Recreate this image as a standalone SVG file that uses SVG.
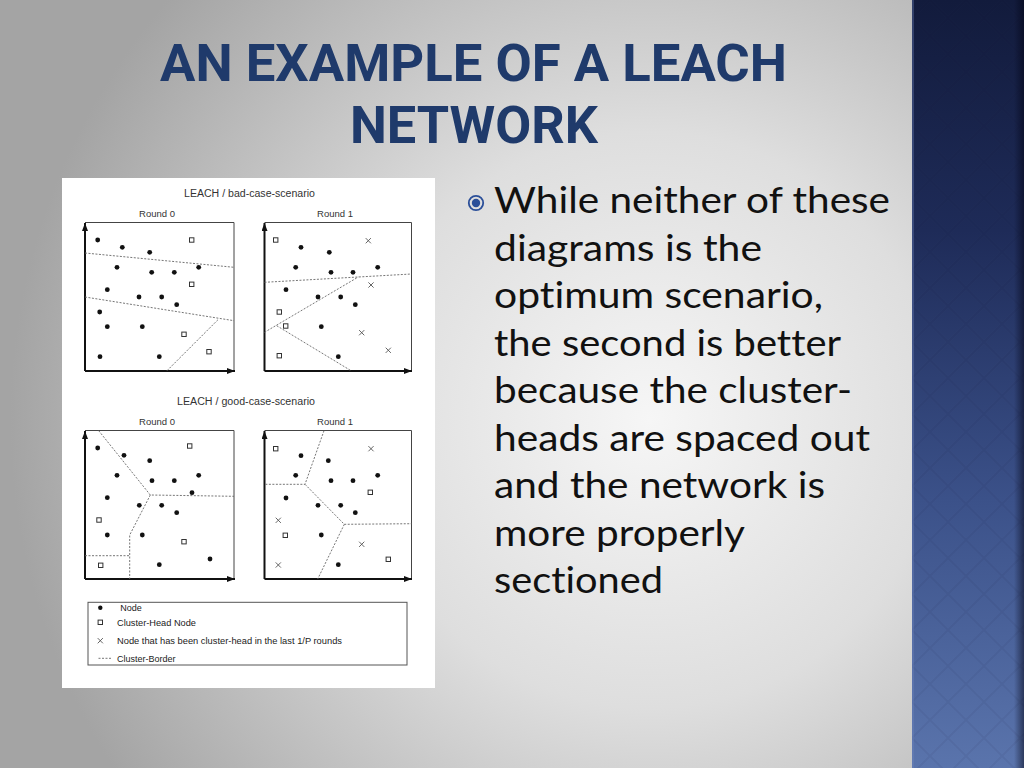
<svg xmlns="http://www.w3.org/2000/svg" width="1024" height="768" viewBox="0 0 1024 768">
<defs>
<radialGradient id="bg" gradientUnits="userSpaceOnUse" cx="650" cy="420" r="640">
<stop offset="0" stop-color="#f6f6f6"/>
<stop offset="0.45" stop-color="#dedede"/>
<stop offset="1" stop-color="#a4a4a4"/>
</radialGradient>
<linearGradient id="strip" x1="0" y1="0" x2="0" y2="1">
<stop offset="0" stop-color="#121b3c"/>
<stop offset="0.3" stop-color="#1e2b58"/>
<stop offset="0.65" stop-color="#3b5189"/>
<stop offset="1" stop-color="#5a74ac"/>
</linearGradient>
<linearGradient id="shade" x1="0" y1="0" x2="1" y2="0">
<stop offset="0" stop-color="#000010" stop-opacity="0"/>
<stop offset="1" stop-color="#000010" stop-opacity="0.5"/>
</linearGradient>
<pattern id="diam" width="36" height="36" patternUnits="userSpaceOnUse" x="912" y="0">
<path d="M0,18L18,0L36,18L18,36Z" fill="none" stroke="#0a1430" stroke-opacity="0.06" stroke-width="2"/>
</pattern>
<marker id="ah" markerWidth="8" markerHeight="6" refX="8" refY="3" orient="auto" markerUnits="userSpaceOnUse">
<path d="M0,0L8,3L0,6Z" fill="#111"/>
</marker>
<g id="sq"><rect x="-2.2" y="-2.2" width="4.4" height="4.4" fill="#fff" stroke="#333" stroke-width="1"/></g>
<g id="xx"><path d="M-2.6,-2.6L2.6,2.6M-2.6,2.6L2.6,-2.6" stroke="#555" stroke-width="0.9" fill="none"/></g>
<style>
.title{font-family:Roboto,"Liberation Sans",sans-serif;font-weight:bold;font-size:52px;fill:#1f3a6b}
.body{font-family:Lato,"Open Sans",sans-serif;font-size:37px;fill:#111;font-variant-ligatures:none}
.ft{font-family:"Liberation Sans",Arial,sans-serif;fill:#333}
.lg{font-family:"Liberation Sans",Arial,sans-serif;fill:#222;font-size:9px}
.dot{fill:#111}
.axis{stroke:#111;stroke-width:2;fill:none}
.frame{stroke:#444;stroke-width:1;fill:none}
.border{stroke:#666;stroke-width:0.9;stroke-dasharray:2 1.5;fill:none}
</style>
</defs>

<rect width="1024" height="768" fill="url(#bg)"/>

<g id="strip">
<rect x="912" y="0" width="112" height="768" fill="url(#strip)"/>
<rect x="912" y="0" width="112" height="768" fill="url(#diam)"/>
<rect x="1014" y="0" width="10" height="768" fill="url(#shade)"/>
<rect x="912" y="0" width="2" height="768" fill="#7088c0" fill-opacity="0.35"/>
</g>

<g id="title">
<text class="title" x="160" y="81" textLength="627" lengthAdjust="spacingAndGlyphs">AN EXAMPLE OF A LEACH</text>
<text class="title" x="350" y="143" textLength="248" lengthAdjust="spacingAndGlyphs">NETWORK</text>
</g>

<g id="bullet-text">
<circle cx="476" cy="203" r="7.2" fill="none" stroke="#2b4f99" stroke-width="1.8"/>
<circle cx="476" cy="203" r="4.2" fill="#2b4f99"/>
<text class="body" x="494" y="213" textLength="396" lengthAdjust="spacingAndGlyphs">While neither of these</text>
<text class="body" x="494" y="260.5" textLength="268" lengthAdjust="spacingAndGlyphs">diagrams is the</text>
<text class="body" x="494" y="308" textLength="329" lengthAdjust="spacingAndGlyphs">optimum scenario,</text>
<text class="body" x="494" y="355.5" textLength="347" lengthAdjust="spacingAndGlyphs">the second is better</text>
<text class="body" x="494" y="403" textLength="358" lengthAdjust="spacingAndGlyphs">because the cluster-</text>
<text class="body" x="494" y="450.5" textLength="376" lengthAdjust="spacingAndGlyphs">heads are spaced out</text>
<text class="body" x="494" y="498" textLength="331" lengthAdjust="spacingAndGlyphs">and the network is</text>
<text class="body" x="494" y="545.5" textLength="251" lengthAdjust="spacingAndGlyphs">more properly</text>
<text class="body" x="494" y="593" textLength="169" lengthAdjust="spacingAndGlyphs">sectioned</text>
</g>

<g id="figure">
<rect x="62" y="178" width="373" height="510" fill="#ffffff"/>

<text class="ft" x="184" y="196.5" font-size="10" textLength="131" lengthAdjust="spacingAndGlyphs">LEACH / bad-case-scenario</text>
<text class="ft" x="157" y="216.5" font-size="9.5" text-anchor="middle">Round 0</text>
<text class="ft" x="335" y="216.5" font-size="9.5" text-anchor="middle">Round 1</text>
<text class="ft" x="177" y="405" font-size="10" textLength="138" lengthAdjust="spacingAndGlyphs">LEACH / good-case-scenario</text>
<text class="ft" x="157" y="425" font-size="9.5" text-anchor="middle">Round 0</text>
<text class="ft" x="335" y="425" font-size="9.5" text-anchor="middle">Round 1</text>

<!-- Panel 1: bad, round 0 -->
<g id="panel-bad-0">
<polyline class="frame" points="85,222.5 234,222.5 234,371"/>
<line class="axis" x1="85" y1="371" x2="85" y2="223" marker-end="url(#ah)"/>
<line class="axis" x1="85" y1="371" x2="235" y2="371" marker-end="url(#ah)"/>
<path class="border" d="M85,253L234,267.3M85,297L234,320.7M167,370.7L218.7,319"/>
<g class="dot">
<circle cx="97.7" cy="240" r="2.4"/><circle cx="122.3" cy="247.3" r="2.4"/><circle cx="149.7" cy="252.3" r="2.4"/>
<circle cx="117" cy="267.3" r="2.4"/><circle cx="151.7" cy="272.3" r="2.4"/><circle cx="174.3" cy="272.3" r="2.4"/>
<circle cx="198.7" cy="267.3" r="2.4"/><circle cx="107.3" cy="289.7" r="2.4"/><circle cx="139" cy="297" r="2.4"/>
<circle cx="161.7" cy="297" r="2.4"/><circle cx="176.7" cy="304.7" r="2.4"/><circle cx="99.7" cy="312" r="2.4"/>
<circle cx="107.3" cy="326.7" r="2.4"/><circle cx="142.3" cy="326.7" r="2.4"/><circle cx="100" cy="356.7" r="2.4"/>
<circle cx="159.3" cy="356.7" r="2.4"/>
</g>
<use href="#sq" x="191.7" y="240"/><use href="#sq" x="191.7" y="284.3"/>
<use href="#sq" x="184" y="334.3"/><use href="#sq" x="209" y="351.7"/>
</g>

<!-- Panel 2: bad, round 1 -->
<g id="panel-bad-1">
<polyline class="frame" points="264.5,222.5 411.5,222.5 411.5,371"/>
<line class="axis" x1="264.5" y1="371" x2="264.5" y2="223" marker-end="url(#ah)"/>
<line class="axis" x1="264.5" y1="371" x2="412" y2="371" marker-end="url(#ah)"/>
<path class="border" d="M264.5,282.3L358.3,277L411.5,274M264.5,332.3L358.3,277M276.7,325.7L351,370.7"/>
<g class="dot">
<circle cx="301" cy="247.3" r="2.4"/><circle cx="329.3" cy="252.3" r="2.4"/><circle cx="295.7" cy="267.3" r="2.4"/>
<circle cx="331" cy="272.3" r="2.4"/><circle cx="353" cy="272.3" r="2.4"/><circle cx="377.7" cy="267.3" r="2.4"/>
<circle cx="286" cy="289.7" r="2.4"/><circle cx="318" cy="297" r="2.4"/><circle cx="340.7" cy="297" r="2.4"/>
<circle cx="355.3" cy="304.7" r="2.4"/><circle cx="321.3" cy="326.7" r="2.4"/><circle cx="338.3" cy="356.7" r="2.4"/>
</g>
<use href="#sq" x="275.7" y="240"/><use href="#sq" x="279.3" y="312"/>
<use href="#sq" x="285.7" y="326"/><use href="#sq" x="279.3" y="355.7"/>
<use href="#xx" x="368.3" y="240.7"/><use href="#xx" x="371" y="285"/>
<use href="#xx" x="361.7" y="332.7"/><use href="#xx" x="388.3" y="350.3"/>
</g>

<!-- Panel 3: good, round 0 -->
<g id="panel-good-0">
<polyline class="frame" points="85,430.5 234,430.5 234,579"/>
<line class="axis" x1="85" y1="579" x2="85" y2="431" marker-end="url(#ah)"/>
<line class="axis" x1="85" y1="579" x2="235" y2="579" marker-end="url(#ah)"/>
<path class="border" d="M98.7,430.7L150.3,495L234,496.3M150.3,495L129.7,535L129.7,579M85,555.7L129.7,555.7"/>
<g class="dot">
<circle cx="97.7" cy="448" r="2.4"/><circle cx="124" cy="455.3" r="2.4"/><circle cx="149.7" cy="460.7" r="2.4"/>
<circle cx="117" cy="475.3" r="2.4"/><circle cx="152" cy="480.7" r="2.4"/><circle cx="174.3" cy="480.7" r="2.4"/>
<circle cx="198.7" cy="475.3" r="2.4"/><circle cx="192" cy="492.7" r="2.4"/><circle cx="107.3" cy="497.7" r="2.4"/>
<circle cx="139.3" cy="505.3" r="2.4"/><circle cx="161.7" cy="505.3" r="2.4"/><circle cx="176.7" cy="512.7" r="2.4"/>
<circle cx="107.3" cy="535" r="2.4"/><circle cx="142.3" cy="535" r="2.4"/><circle cx="159.3" cy="564.7" r="2.4"/>
<circle cx="210" cy="559" r="2.4"/>
</g>
<use href="#sq" x="189.7" y="446"/><use href="#sq" x="99" y="520"/>
<use href="#sq" x="184" y="541.7"/><use href="#sq" x="100.7" y="565.3"/>
</g>

<!-- Panel 4: good, round 1 -->
<g id="panel-good-1">
<polyline class="frame" points="264.5,430.5 411.5,430.5 411.5,579"/>
<line class="axis" x1="264.5" y1="579" x2="264.5" y2="431" marker-end="url(#ah)"/>
<line class="axis" x1="264.5" y1="579" x2="412" y2="579" marker-end="url(#ah)"/>
<path class="border" d="M324,430.7L305,484.3L264.5,484.3M305,484.3L344.3,524.3L411.5,523.7M344.3,524.3L317.7,579"/>
<g class="dot">
<circle cx="301" cy="455.7" r="2.4"/><circle cx="328.3" cy="460.7" r="2.4"/><circle cx="295.7" cy="475.3" r="2.4"/>
<circle cx="331" cy="480.7" r="2.4"/><circle cx="353" cy="480.7" r="2.4"/><circle cx="377.7" cy="475.3" r="2.4"/>
<circle cx="286" cy="498" r="2.4"/><circle cx="318" cy="505.3" r="2.4"/><circle cx="340.7" cy="505.3" r="2.4"/>
<circle cx="355.3" cy="512.7" r="2.4"/><circle cx="321.3" cy="535" r="2.4"/><circle cx="338.3" cy="564.7" r="2.4"/>
</g>
<use href="#sq" x="275.7" y="448.7"/><use href="#sq" x="370.3" y="492.3"/>
<use href="#sq" x="285.3" y="535.3"/><use href="#sq" x="388.3" y="559.3"/>
<use href="#xx" x="371" y="448.7"/><use href="#xx" x="278.3" y="520.3"/>
<use href="#xx" x="361.7" y="544.3"/><use href="#xx" x="278.3" y="565"/>
</g>

<!-- Legend -->
<g id="legend">
<rect x="88" y="602.3" width="319" height="62.7" fill="#fff" stroke="#555" stroke-width="1"/>
<circle class="dot" cx="100.3" cy="607.7" r="2.2"/>
<text class="lg" x="120.3" y="611">Node</text>
<use href="#sq" x="100.3" y="622.3"/>
<text class="lg" x="117" y="625.6" textLength="79" lengthAdjust="spacingAndGlyphs">Cluster-Head Node</text>
<use href="#xx" x="100.3" y="640.7"/>
<text class="lg" x="117" y="644" textLength="225" lengthAdjust="spacingAndGlyphs">Node that has been cluster-head in the last 1/P rounds</text>
<line class="border" x1="98.5" y1="658.3" x2="112" y2="658.3"/>
<text class="lg" x="117" y="661.6">Cluster-Border</text>
</g>
</g>
</svg>
